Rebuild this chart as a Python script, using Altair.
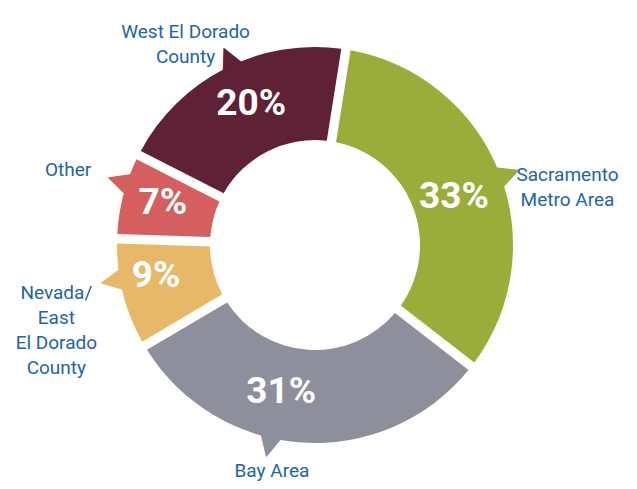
import math
import altair as alt
import pandas as pd

# clockwise order, starting at the top-right (Sacramento)
categories = ["Sacramento Metro Area", "Bay Area", "Nevada/East El Dorado County", "Other", "West El Dorado County"]
shares = [33, 31, 9, 7, 20]
pct_labels = ["33%", "31%", "9%", "7%", "20%"]
colors = ["#9aac3a", "#8e8f9d", "#e8b869", "#d45f5e", "#5f2135"]
label_texts = ["Sacramento\nMetro Area", "Bay Area", "Nevada/\nEast\nEl Dorado\nCounty", "Other", "West El Dorado\nCounty"]
# callout pointer positions (in share units along the ring)
tail_pos = [16.9, 51.1, 69.7, 77.5, 90.6]
# category label anchor positions (share units along the ring) and radius
label_pos = [18.2, 50.5, 69.6, 77.2, 88.8]
label_r = [262, 230, 263, 258, 249]
# percentage label positions (share units along the ring) and radius
pct_pos = [17.2, 51.1, 69.4, 76.8, 90.75]
pct_r = [147, 151, 162, 158, 155]

start_deg = 9.0
start = math.radians(start_deg)

df = pd.DataFrame({
    "category": categories,
    "share": shares,
    "pct": pct_labels,
    "idx": list(range(len(categories))),
    "label": label_texts,
    "tail_pos": tail_pos,
    "tail_ang": [p * 3.6 + start_deg for p in tail_pos],
    "label_pos": label_pos,
    "label_r": label_r,
    "pct_pos": pct_pos,
    "pct_r": pct_r,
})

theta_scale = alt.Scale(domain=[0, 100], range=[start, start + 2 * math.pi])
color_scale = alt.Scale(domain=categories, range=colors)
FONT = "Roboto, sans-serif"

base = alt.Chart(df)

tails = base.mark_text(text="\u25b2", fontSize=34, font="DejaVu Sans", baseline="middle", align="center").encode(
    theta=alt.Theta("tail_pos:Q", scale=theta_scale, stack=None),
    radius=alt.value(206),
    angle=alt.Angle("tail_ang:Q", scale=None),
    color=alt.Color("category:N", scale=color_scale, legend=None),
)

arcs = base.mark_arc(innerRadius=105, outerRadius=198, padAngle=0.042).encode(
    theta=alt.Theta("share:Q", scale=theta_scale, stack=True),
    color=alt.Color("category:N", scale=color_scale, legend=None),
    order=alt.Order("idx:Q"),
)

pcts = base.mark_text(fontSize=37, fontWeight="bold", color="white", font=FONT,
                      baseline="middle", align="center").encode(
    theta=alt.Theta("pct_pos:Q", scale=theta_scale, stack=None),
    radius=alt.Radius("pct_r:Q", scale=None),
    text="pct:N",
)

labels = base.mark_text(fontSize=19, color="#1f65a2", font=FONT, lineBreak="\n", lineHeight=25,
                        baseline="middle", align="center").encode(
    theta=alt.Theta("label_pos:Q", scale=theta_scale, stack=None),
    radius=alt.Radius("label_r:Q", scale=None),
    text="label:N",
)

chart = alt.layer(tails, arcs, pcts, labels).properties(
    width=614, height=474,
    padding={"left": 0, "top": 0, "right": 7, "bottom": 7},
    autosize=alt.AutoSizeParams(type="none"),
).configure_view(stroke=None).configure(background="white")

chart.save("out.html", embed_options={"renderer": "svg", "actions": False})
